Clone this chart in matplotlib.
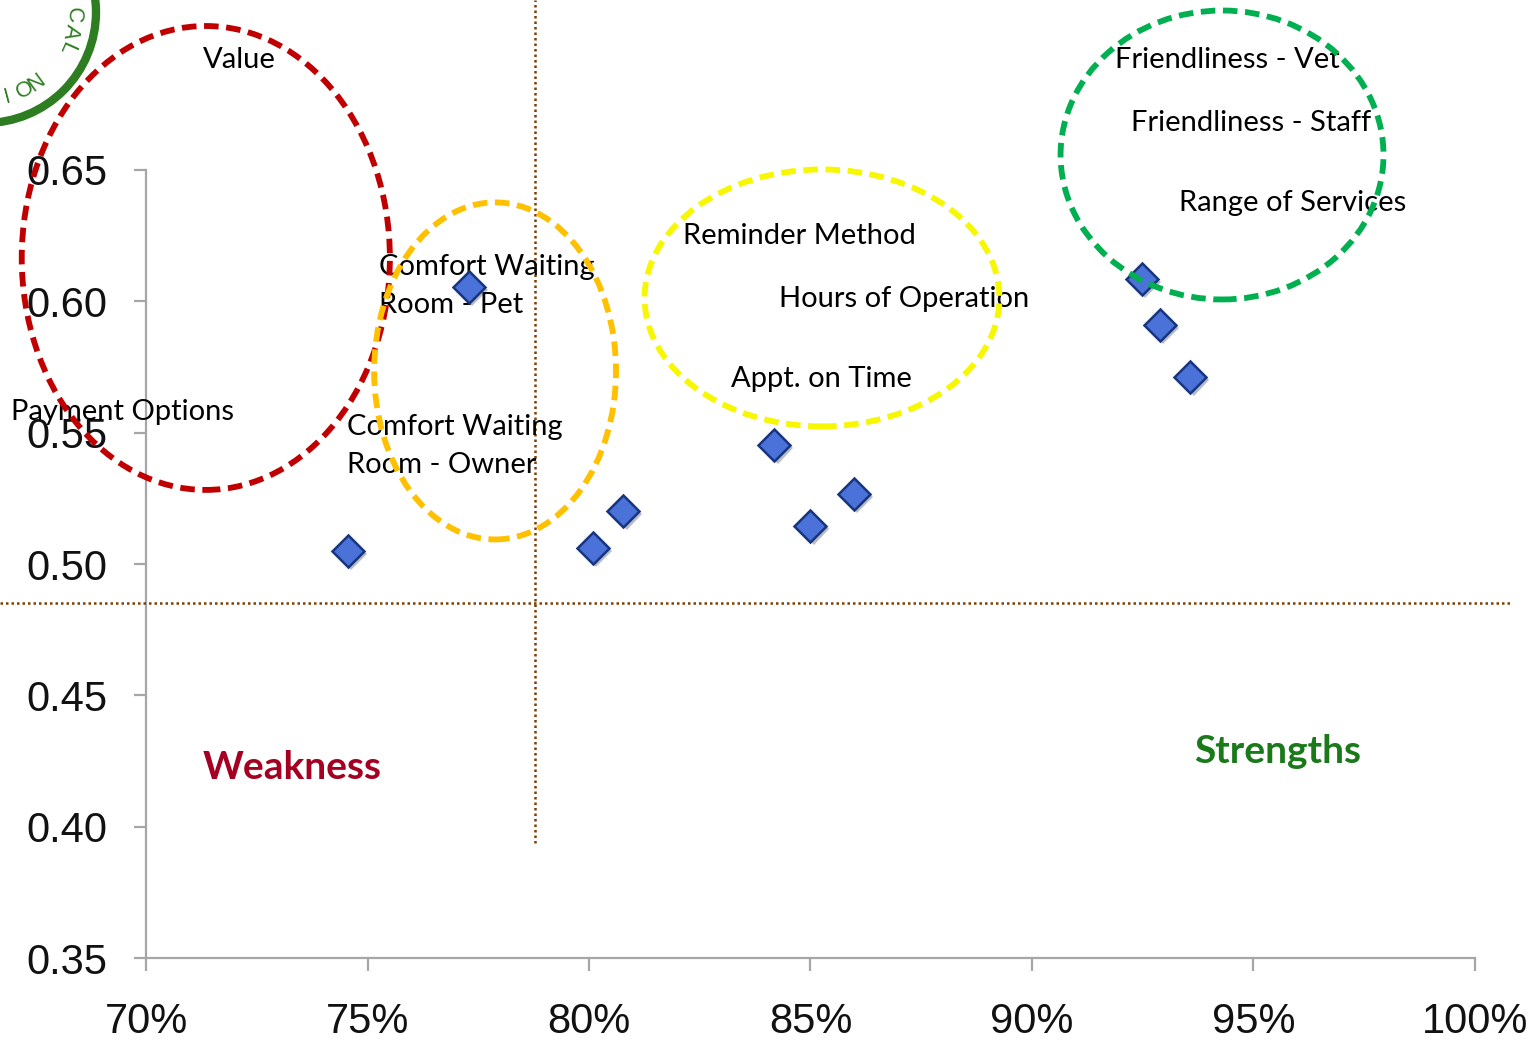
import numpy as np
import matplotlib
matplotlib.use("Agg")
import matplotlib.pyplot as plt
from matplotlib.patches import Ellipse, Circle
from matplotlib.transforms import IdentityTransform
import matplotlib.patheffects as pe

# satisfaction (x, %) vs. importance (y) for each service attribute
sat = [74.56, 77.29, 80.09, 80.77, 84.18, 84.99, 85.98, 92.48, 92.89, 93.57]
imp = [0.505, 0.6055, 0.5061, 0.5202, 0.5453, 0.5145, 0.5267, 0.6085, 0.591, 0.5712]

labels = ["Value", "Payment Options", "Comfort Waiting\nRoom - Pet",
          "Comfort Waiting\nRoom - Owner", "Reminder Method", "Hours of Operation",
          "Appt. on Time", "Friendliness - Vet", "Friendliness - Staff",
          "Range of Services"]
label_x = [71.29, 66.95, 75.26, 74.54, 82.12, 84.29, 83.21, 91.87, 92.23, 93.32]
label_y = [0.692, 0.558, 0.6058, 0.5449, 0.625, 0.6009, 0.5704, 0.692, 0.6679, 0.6374]

# grouping ellipses: centre x, centre y, width, height, colour
groups_cx = [71.35, 77.88, 85.26, 94.29]
groups_cy = [0.6165, 0.5735, 0.6013, 0.6557]
groups_w = [8.31, 5.46, 8.01, 7.29]
groups_h = [0.1766, 0.1283, 0.0978, 0.110]
groups_col = ["#c00000", "#ffc000", "#f7f700", "#00b050"]

# quadrant dividers
avg_sat = 78.78
avg_imp = 0.4852

xticks = [70, 75, 80, 85, 90, 95, 100]
yticks = [0.35, 0.40, 0.45, 0.50, 0.55, 0.60, 0.65]

label_font = "Lato"
tick_font = "Liberation Sans"

fig = plt.figure(figsize=(15.37, 10.45), dpi=100)
ax = fig.add_axes([0, 0, 1, 1])
ax.set_xlim(66.704, 101.40)
ax.set_ylim(0.3169, 0.7147)
ax.patch.set_visible(False)

for s in ["top", "right"]:
    ax.spines[s].set_visible(False)
ax.spines["left"].set_position(("data", 70))
ax.spines["bottom"].set_position(("data", 0.35))
ax.spines["left"].set_bounds(0.35, 0.65)
ax.spines["bottom"].set_bounds(70, 100)
for s in ["left", "bottom"]:
    ax.spines[s].set_color("#a6a6a6")
    ax.spines[s].set_linewidth(1.6)

ax.set_xticks(xticks)
ax.set_xticklabels([f"{v}%" for v in xticks])
ax.set_yticks(yticks)
ax.set_yticklabels([f"{v:.2f}" for v in yticks])
ax.tick_params(axis="both", colors="#a6a6a6", length=9, width=1.6,
               labelcolor="#111111", labelsize=30)
ax.tick_params(axis="y", pad=19)
ax.tick_params(axis="x", pad=23)
for t in ax.get_xticklabels() + ax.get_yticklabels():
    t.set_fontfamily(tick_font)

# dotted average lines
ax.plot([66.704, 100.79], [avg_imp, avg_imp], color="#7f3f00", lw=1.8,
        ls=(0, (1, 1.2)), zorder=3, clip_on=False)
ax.plot([avg_sat, avg_sat], [0.3938, 0.7147], color="#7f3f00", lw=1.8,
        ls=(0, (1, 1.2)), zorder=3, clip_on=False)

for txt, x, y in zip(labels, label_x, label_y):
    ax.text(x, y, txt, family=label_font, fontsize=21, color="black",
            ha="left", va="center", linespacing=1.55, zorder=4)

ax.plot(sat, imp, ls="none", marker="D", ms=16, mfc="#4a72d8", mec="#17357f",
        mew=1.8, zorder=6,
        path_effects=[pe.SimplePatchShadow(offset=(2.5, -2.5), alpha=0.3), pe.Normal()])

for cx, cy, w, h, c in zip(groups_cx, groups_cy, groups_w, groups_h, groups_col):
    ax.add_patch(Ellipse((cx, cy), w, h, fill=False, edgecolor=c, lw=4.2,
                         ls=(0, (2.5, 1.3)), zorder=7))

ax.text(71.29, 0.4227, "Weakness", family=label_font, weight="bold",
        fontsize=28, color="#a50021", ha="left", va="center", zorder=4)
ax.text(93.66, 0.4285, "Strengths", family=label_font, weight="bold",
        fontsize=28, color="#1a7a1a", ha="left", va="center", zorder=4)

# corner seal, drawn in pixel space
H = 1045
cx0, cy0, r0 = -15, H - 12, 111
fig.patches.append(Circle((cx0, cy0), r0, fill=False, edgecolor="#2f7d22",
                          lw=6, transform=IdentityTransform(), figure=fig))
seal_letters = [("C", -2, True), ("A", -13, True), ("L", -24, True),
                ("N", -54, False), ("O", -63, False), ("I", -75, False)]
for ch, ang, outward in seal_letters:
    a = np.radians(ang)
    px = cx0 + 88 * np.cos(a)
    py = cy0 + 88 * np.sin(a)
    rot = ang - 90 if outward else ang + 90
    fig.text(px, py, ch, transform=IdentityTransform(), fontsize=16,
             family=tick_font, color="#2f7d22", rotation=rot,
             rotation_mode="anchor", ha="center", va="center")

fig.savefig("out.png", dpi=100)
